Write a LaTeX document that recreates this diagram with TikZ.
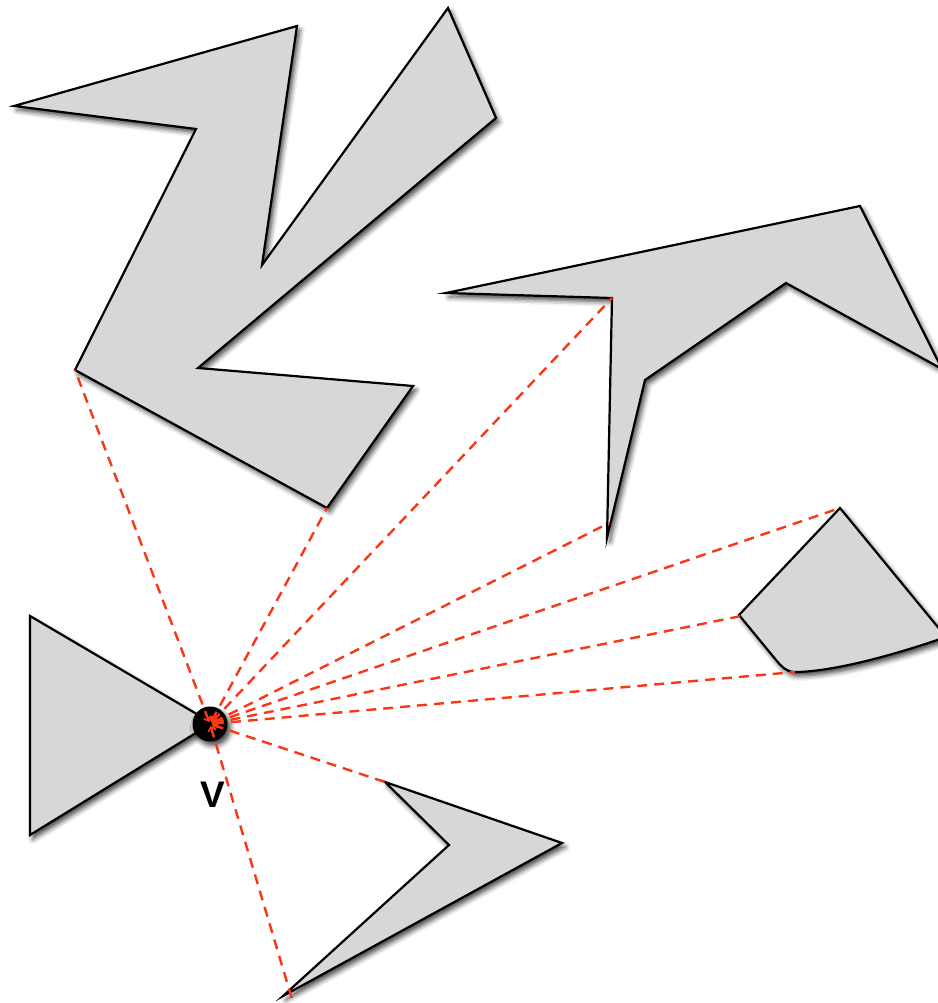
\documentclass[tikz,border=0pt]{standalone}
\usepackage{fontspec}
\setmainfont{Liberation Sans}
\usetikzlibrary{shadows.blur,arrows.meta}
\definecolor{shapegray}{RGB}{215,215,215}
\definecolor{rayred}{RGB}{250,55,20}
\tikzset{
  poly/.style={draw=black, line width=2.2pt, fill=shapegray, line join=miter,
    blur shadow={shadow xshift=3pt, shadow yshift=-4pt, shadow blur radius=5pt, shadow opacity=75}},
  ray/.style={draw=rayred, line width=2.4pt, dash pattern=on 10pt off 7pt,
    {Straight Barb[length=4pt,width=8pt,line width=1.6pt]}-, shorten <=2pt},
  dot/.style={circle, fill=black, minimum size=35pt, inner sep=0pt,
    blur shadow={shadow xshift=3pt, shadow yshift=-4pt, shadow blur radius=5pt, shadow opacity=75}},
  vlab/.style={font=\bfseries\fontsize{37}{40}\selectfont, inner sep=0pt}
}
\begin{document}
\begin{tikzpicture}[x=1pt,y=-1pt]
\useasboundingbox (0,0) rectangle (937,1003);
% Z shape
\coordinate (z1) at (14,106);
\coordinate (z2) at (297,26);
\coordinate (z3) at (262,265);
\coordinate (z4) at (448,8);
\coordinate (z5) at (496,118);
\coordinate (z6) at (198,368);
\coordinate (z7) at (413,386);
\coordinate (z8) at (327,508);
\coordinate (z9) at (75,370);
\coordinate (z10) at (196,129);
\draw[poly] (z1) -- (z2) -- (z3) -- (z4) -- (z5) -- (z6) -- (z7) -- (z8) -- (z9) -- (z10) -- cycle;
% top-right shape
\coordinate (t1) at (446,293);
\coordinate (t2) at (860,206);
\coordinate (t3) at (942,369);
\coordinate (t4) at (786,283);
\coordinate (t5) at (645,380);
\coordinate (t6) at (607,538);
\coordinate (t7) at (612,298);
\draw[poly] (t1) -- (t2) -- (t3) -- (t4) -- (t5) -- (t6) -- (t7) -- cycle;
% pentagon-like shape
\coordinate (p1) at (840,508);
\coordinate (p2) at (946,637);
\coordinate (p3) at (795,672);
\coordinate (p4) at (739,615);
\draw[poly] (p1) -- (p2) .. controls (880,660) and (825,672) .. (p3)
  .. controls (786,672) and (781,666) .. (776,660) -- (p4) -- cycle;
% left triangle
\coordinate (l1) at (30,616);
\coordinate (l2) at (212,723);
\coordinate (l3) at (30,835);
\draw[poly] (l1) -- (l2) -- (l3) -- cycle;
% bottom arrow shape
\coordinate (b1) at (385,782);
\coordinate (b2) at (562,843);
\coordinate (b3) at (283,996);
\coordinate (b4) at (449,845);
\draw[poly] (b1) -- (b2) -- (b3) -- (b4) -- cycle;
% point V
\node[dot] (v) at (210,724) {};
\node[vlab] (vl) at (213,795) {V};
% ray end points
\coordinate (r4) at (609,523);
\coordinate (r6) at (746,615);
\coordinate (r9) at (292,999);
\foreach \e in {z9,z8,t7,r4,p1,r6,p3,b1,r9}
  \draw[ray] (v.center) -- (\e);
\end{tikzpicture}
\end{document}
